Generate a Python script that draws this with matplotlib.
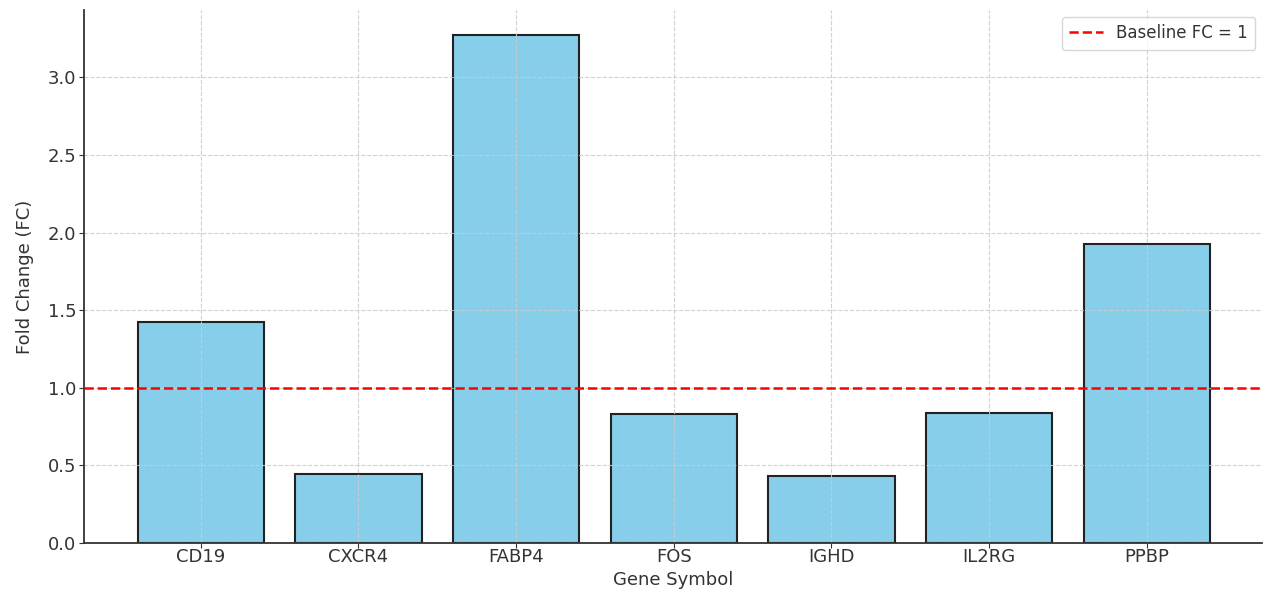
import matplotlib
matplotlib.use("Agg")
import matplotlib.pyplot as plt

genes = ["CD19", "CXCR4", "FABP4", "FOS", "IGHD", "IL2RG", "PPBP"]
fold_change = [1.423, 0.444, 3.271, 0.831, 0.431, 0.837, 1.925]
baseline = 1.0

plt.rcParams['font.family'] = ['DejaVu Sans']
text_color = '#333333'

fig = plt.figure(figsize=(12.66, 5.91), dpi=100)
ax = fig.add_axes([0.0664, 0.0812, 0.9304, 0.9018])

x = list(range(len(genes)))
ax.bar(x, fold_change, width=0.8, color='skyblue', edgecolor='#222222', linewidth=1.5)
ax.axhline(baseline, color='red', linestyle='--', linewidth=1.8, label='Baseline FC = 1', zorder=3)

ax.set_xticks(x)
ax.set_xticklabels(genes)
ax.set_xlim(-0.74, 6.73)
ax.set_ylim(0, max(fold_change) * 1.05)
ax.set_yticks([0.0, 0.5, 1.0, 1.5, 2.0, 2.5, 3.0])

ax.grid(True, linestyle='--', color='#cccccc', linewidth=0.8, alpha=0.9)
for s in ['top', 'right']:
    ax.spines[s].set_visible(False)
for s in ['left', 'bottom']:
    ax.spines[s].set_color('#333333')
    ax.spines[s].set_linewidth(1.3)

ax.tick_params(axis='both', labelsize=13, colors=text_color, length=3.5, pad=2)
ax.tick_params(axis='x', pad=0)
ax.set_xlabel('Gene Symbol', fontsize=13, color=text_color, labelpad=4)
ax.set_ylabel('Fold Change (FC)', fontsize=13, color=text_color, labelpad=10)

leg = ax.legend(loc='upper right', fontsize=12, frameon=True, borderpad=0.45,
                borderaxespad=0.4)
for t in leg.get_texts():
    t.set_color(text_color)

fig.savefig('out.png', dpi=100)
